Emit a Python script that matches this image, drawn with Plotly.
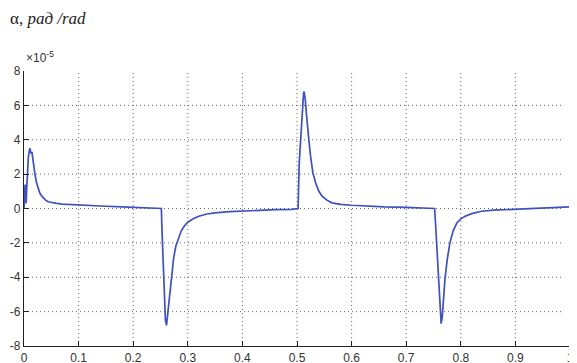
import plotly.graph_objects as go

# time (s) and angle alpha (in units of 1e-5 rad)
t = [0.000, 0.001, 0.002, 0.003, 0.004, 0.005, 0.006, 0.008, 0.010, 0.011, 0.012, 0.013, 0.0145, 0.016,
     0.018, 0.020, 0.023, 0.026, 0.029, 0.033, 0.037, 0.041, 0.046, 0.052, 0.060, 0.070, 0.080,
     0.100, 0.120, 0.150, 0.180, 0.210, 0.240, 0.250, 0.2515,
     0.253, 0.255, 0.257, 0.259, 0.261, 0.263, 0.266, 0.270, 0.274, 0.278, 0.283, 0.288, 0.294,
     0.300, 0.310, 0.320, 0.335, 0.350, 0.376, 0.400, 0.430, 0.460, 0.490, 0.502,
     0.504, 0.506, 0.508, 0.510, 0.512, 0.513, 0.515, 0.517, 0.519, 0.522, 0.525, 0.529, 0.534,
     0.540, 0.546, 0.554, 0.564, 0.580, 0.600, 0.630, 0.660, 0.700, 0.730, 0.750, 0.752,
     0.754, 0.756, 0.758, 0.760, 0.762, 0.764, 0.766, 0.768, 0.771, 0.775, 0.780, 0.786, 0.793,
     0.800, 0.808, 0.820, 0.838, 0.860, 0.890, 0.920, 0.950, 0.980, 1.000]
alpha = [0.0, 0.9, 1.4, 0.8, 0.3, 1.2, 2.3, 3.0, 3.4, 3.5, 3.3, 3.2, 3.3, 2.9,
         2.4, 2.0, 1.5, 1.15, 0.9, 0.7, 0.55, 0.45, 0.38, 0.33, 0.3, 0.26, 0.24,
         0.2, 0.17, 0.13, 0.1, 0.07, 0.05, 0.04, 0.0,
         -1.5, -3.5, -5.5, -6.5, -6.8, -6.2, -5.0, -3.8, -2.9, -2.2, -1.7, -1.3, -1.0,
         -0.8, -0.6, -0.45, -0.32, -0.25, -0.18, -0.14, -0.1, -0.07, -0.05, 0.0,
         2.6, 3.8, 4.9, 6.2, 6.7, 6.8, 6.4, 5.6, 4.8, 3.9, 3.0, 2.1, 1.5,
         1.0, 0.72, 0.5, 0.33, 0.24, 0.19, 0.14, 0.1, 0.07, 0.05, 0.04, 0.0,
         -1.0, -2.2, -3.6, -4.9, -6.0, -6.7, -6.3, -5.2, -4.1, -3.0, -2.0, -1.3, -0.83,
         -0.6, -0.45, -0.3, -0.16, -0.1, -0.05, -0.02, 0.02, 0.06, 0.1]

x_ticks = [0, 0.1, 0.2, 0.3, 0.4, 0.5, 0.6, 0.7, 0.8, 0.9, 1]
x_labels = ["0", "0.1", "0.2", "0.3", "0.4", "0.5", "0.6", "0.7", "0.8", "0.9", "1"]
y_ticks = [-8, -6, -4, -2, 0, 2, 4, 6, 8]
y_labels = ["-8", "-6", "-4", "-2", "0", "2", "4", "6", "8"]

fig = go.Figure()

# dotted grid lines at the inner tick positions
grid_style = dict(color="#666666", width=1, dash="1px,3px")
for xv in x_ticks[1:-1]:
    fig.add_shape(type="line", xref="x", yref="paper", x0=xv, x1=xv, y0=0, y1=1,
                  line=grid_style, layer="below")
for yv in y_ticks[1:-1]:
    fig.add_shape(type="line", xref="paper", yref="y", x0=0, x1=0.985, y0=yv, y1=yv,
                  line=grid_style, layer="below")

fig.add_trace(go.Scatter(x=t, y=alpha, mode="lines",
                         line=dict(color="#3f51c0", width=1.7), showlegend=False))

axis_common = dict(showgrid=False, showline=True, linecolor="#222222", linewidth=1.2,
                   ticks="inside", ticklen=5, tickcolor="#222222",
                   zeroline=False, automargin=False, ticklabeloverflow="allow",
                   tickfont=dict(family="Liberation Sans, Arial", size=12, color="#333333"))

fig.update_xaxes(range=[0, 1], tickvals=x_ticks, ticktext=x_labels, **axis_common)
fig.update_yaxes(range=[-8, 8], tickvals=y_ticks, ticktext=y_labels, **axis_common)

fig.add_annotation(text="α, <i>рад /rad</i>", xref="paper", yref="paper",
                   x=-0.03, y=1.0, yshift=53, xanchor="left", yanchor="middle", showarrow=False,
                   font=dict(family="Liberation Serif, Times New Roman", size=17, color="#222222"))
fig.add_annotation(text="×10<sup>-5</sup>", xref="paper", yref="paper",
                   x=0.0, y=1.0, yshift=14, xanchor="left", yanchor="middle", showarrow=False,
                   font=dict(family="Liberation Sans, Arial", size=12, color="#333333"))

# the page body adds an 8px offset, so the figure is sized/margined to compensate
fig.update_layout(width=569, height=355, margin=dict(l=16, r=7, t=63, b=17),
                  paper_bgcolor="white", plot_bgcolor="white")

fig.write_html("out.html")
